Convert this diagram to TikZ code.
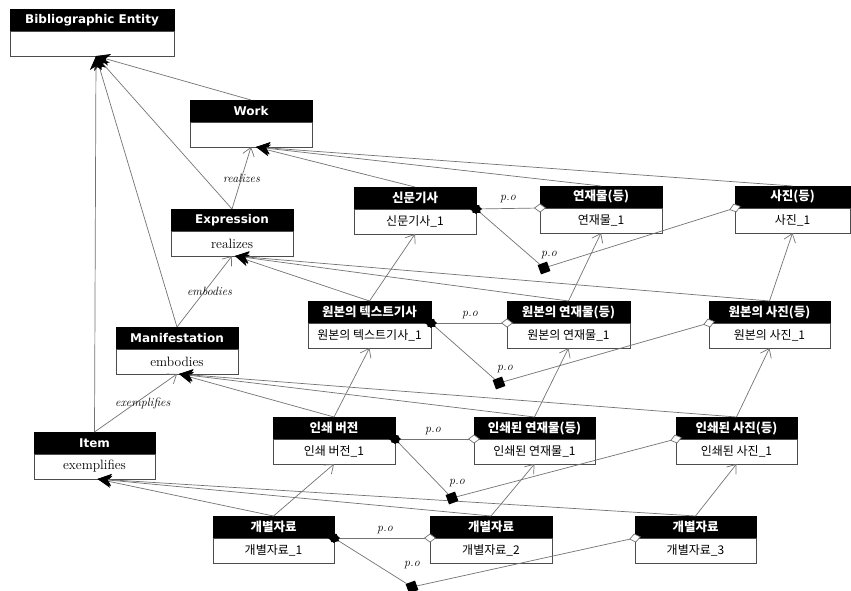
\documentclass[tikz,border=0pt]{standalone}
\usepackage{fontspec}
\usetikzlibrary{arrows.meta,shapes.geometric}
\newfontfamily\hdfont{DejaVu Sans}
\newfontfamily\krfont{Noto Sans CJK KR}
\definecolor{lnc}{gray}{0.45}
\definecolor{bdc}{gray}{0.3}
\tikzset{
 hdr/.style={fill=black, draw=black, text=white, inner sep=0pt, outer sep=0pt, minimum height=22pt, font=\hdfont\bfseries\fontsize{12}{14}\selectfont},
 khdr/.style={hdr, font=\krfont\bfseries\fontsize{12.5}{14}\selectfont},
 bdy/.style={draw=bdc, line width=0.9pt, fill=white, inner sep=0pt, outer sep=0pt, minimum height=25pt, font=\fontsize{13.5}{15}\selectfont},
 kbdy/.style={bdy, font=\krfont\fontsize{12}{14}\selectfont},
 isa/.style={draw=lnc, line width=0.7pt, -{Stealth[length=14pt,width=12pt,inset=4pt,color=black]}},
 rel/.style={draw=lnc, line width=0.7pt, -{Straight Barb[length=8pt,width=12pt]}},
 lbl/.style={font=\itshape\fontsize{12}{14}\selectfont, inner sep=1pt},
 po/.style={draw=lnc, line width=0.7pt},
 pboth/.style={po, {Diamond[length=12pt,width=10pt,color=black]}-{Diamond[length=12pt,width=9pt,color=lnc,fill=white]}, shorten <=-6pt, shorten >=-6pt},
 pstart/.style={po, {Diamond[length=12pt,width=10pt,color=black]}-, shorten <=-6pt},
 pend/.style={po, -{Diamond[length=12pt,width=9pt,color=lnc,fill=white]}, shorten >=-6pt},
 junc/.style={fill=black, minimum size=10pt, inner sep=0pt, rotate=20},
}
\newcommand\ubox[8]{%
  \node[#5, minimum width=#4pt, anchor=north west] (#1-h) at (#2,#3) {#6};
  \node[#7, minimum width=#4pt, anchor=north] (#1) at (#1-h.south) {#8};
}
\begin{document}
\begin{tikzpicture}[x=1pt,y=-1pt]
\useasboundingbox[fill=white] (0,0) rectangle (851,591);
% boxes
\ubox{bib}{10}{9}{164}{hdr}{Bibliographic Entity}{bdy}{}
\ubox{work}{190}{100}{122}{hdr}{Work}{bdy}{}
\ubox{expr}{171}{209}{122}{hdr}{Expression}{bdy}{realizes}
\ubox{manif}{116}{327}{122}{hdr}{Manifestation}{bdy}{embodies}
\ubox{item}{34}{432}{121}{hdr}{Item}{bdy}{exemplifies}
\ubox{sinmun}{354}{187}{122}{khdr}{신문기사}{kbdy}{신문기사\_1}
\ubox{yeon}{540}{186}{122}{khdr}{연재물(등)}{kbdy}{연재물\_1}
\ubox{sajin}{735}{186}{115}{khdr}{사진(등)}{kbdy}{사진\_1}
\ubox{wtext}{308}{301}{123}{khdr}{원본의 텍스트기사}{kbdy}{원본의 텍스트기사\_1}
\ubox{wyeon}{507}{301}{123}{khdr}{원본의 연재물(등)}{kbdy}{원본의 연재물\_1}
\ubox{wsajin}{709}{301}{121}{khdr}{원본의 사진(등)}{kbdy}{원본의 사진\_1}
\ubox{print}{273}{417}{122}{khdr}{인쇄 버전}{kbdy}{인쇄 버전\_1}
\ubox{pyeon}{474}{417}{121}{khdr}{인쇄된 연재물(등)}{kbdy}{인쇄된 연재물\_1}
\ubox{psajin}{676}{417}{121}{khdr}{인쇄된 사진(등)}{kbdy}{인쇄된 사진\_1}
\ubox{g1}{213}{516}{121}{khdr}{개별자료}{kbdy}{개별자료\_1}
\ubox{g2}{430}{516}{122}{khdr}{개별자료}{kbdy}{개별자료\_2}
\ubox{g3}{635}{516}{121}{khdr}{개별자료}{kbdy}{개별자료\_3}
% target points
\coordinate (bibT) at ([xshift=4pt]bib.south);
\coordinate (workT) at ([xshift=5pt]work.south);
\coordinate (exprT) at ([xshift=3pt]expr.south);
\coordinate (manifT) at ([xshift=2pt]manif.south);
\coordinate (itemT) at ([xshift=3pt]item.south);
% generalisation to Bibliographic Entity
\foreach \n in {work,expr,manif,item} \draw[isa] (\n-h.north) -- (bibT);
% class relations
\draw[rel] (expr-h.north) -- node[lbl]{realizes} (work.south);
\draw[rel] (manif-h.north) -- node[lbl, xshift=5pt]{embodies} (expr.south);
\draw[rel] (item-h.north) -- node[lbl, xshift=7pt]{exemplifies} (manif.south);
% instance-of
\foreach \n in {sinmun,yeon,sajin} \draw[isa] (\n-h.north) -- (workT);
\foreach \n in {wtext,wyeon,wsajin} \draw[isa] (\n-h.north) -- (exprT);
\foreach \n in {print,pyeon,psajin} \draw[isa] (\n-h.north) -- (manifT);
\foreach \n in {g1,g2,g3} \draw[isa] (\n-h.north) -- (itemT);
% instance relations
\draw[rel] (wtext-h.north) -- (sinmun.south);
\draw[rel] (wyeon-h.north) -- (yeon.south);
\draw[rel] (wsajin-h.north) -- (sajin.south);
\draw[rel] (print-h.north) -- (wtext.south);
\draw[rel] (pyeon-h.north) -- (wyeon.south);
\draw[rel] (psajin-h.north) -- (wsajin.south);
\draw[rel] (g1-h.north) -- (print.south);
\draw[rel] (g2-h.north) -- (pyeon.south);
\draw[rel] (g3-h.north) -- (psajin.south);
% part-of
\node[junc] (j1) at (544,268) {};
\node[junc] (j2) at (499,383) {};
\node[junc] (j3) at (452,498) {};
\node[junc] (j4) at (412,587) {};
\draw[pboth] (sinmun.north east) -- (yeon.north west);
\draw[pstart] (sinmun.north east) -- (j1);
\draw[pend] (j1) -- (sajin.north west);
\draw[pboth] (wtext.north east) -- (wyeon.north west);
\draw[pstart] (wtext.north east) -- (j2);
\draw[pend] (j2) -- (wsajin.north west);
\draw[pboth] (print.north east) -- (pyeon.north west);
\draw[pstart] (print.north east) -- (j3);
\draw[pend] (j3) -- (psajin.north west);
\draw[pboth] (g1.north east) -- (g2.north west);
\draw[pstart] (g1.north east) -- (j4);
\draw[pend] (j4) -- (g3.north west);
\node[lbl] (l1) at (508,199) {p.o};
\node[lbl] (l2) at (549,255) {p.o};
\node[lbl] (l3) at (470,315) {p.o};
\node[lbl] (l4) at (505,369) {p.o};
\node[lbl] (l5) at (433,431) {p.o};
\node[lbl] (l6) at (457,483) {p.o};
\node[lbl] (l7) at (385,530) {p.o};
\node[lbl] (l8) at (412,565) {p.o};
\end{tikzpicture}
\end{document}
